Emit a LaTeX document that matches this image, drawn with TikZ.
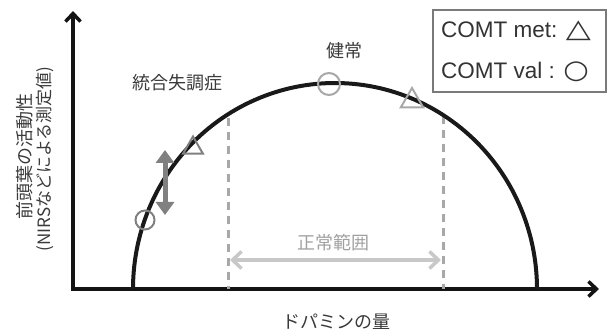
\documentclass[tikz,border=0pt]{standalone}
\usepackage{fontspec}
\setmainfont{Liberation Sans}
\newfontfamily\jpfont{Noto Sans CJK JP}
\newfontfamily\symfont{DejaVu Sans}
\usetikzlibrary{arrows.meta,shapes.geometric}
\definecolor{markdark}{HTML}{808080}
\definecolor{marklight}{HTML}{A8A8A8}
\definecolor{dashgray}{HTML}{A8A8A8}
\definecolor{rangegray}{HTML}{C8C8C8}
\definecolor{rangetext}{HTML}{A0A0A0}
\definecolor{legendline}{HTML}{7A7A7A}
\definecolor{legendtext}{HTML}{333333}
\definecolor{jptext}{HTML}{3A3A3A}
\tikzset{
  axisline/.style={line width=4pt, black!92, line join=miter,
    arrows={Straight Barb[length=8pt,width=15pt,line width=3.5pt]-Straight Barb[length=8pt,width=15pt,line width=3.5pt]}},
  curveline/.style={line width=4pt, black!90},
  dashline/.style={line width=3pt, dashgray, dash pattern=on 8pt off 6pt},
  rangearrow/.style={line width=4pt, rangegray,
    arrows={Straight Barb[length=9pt,width=17pt,line width=3.5pt]-Straight Barb[length=9pt,width=17pt,line width=3.5pt]}},
  shiftarrow/.style={line width=5pt, markdark,
    arrows={Triangle[length=13pt,width=18pt]-Triangle[length=13pt,width=18pt]}},
  circmark/.style={circle, draw, line width=2pt, inner sep=0pt},
  trimark/.style={regular polygon, regular polygon sides=3, draw, line width=2pt, inner sep=0pt},
  jplabel/.style={font=\jpfont\fontsize{18}{18}\selectfont, text=jptext, inner sep=0pt},
  legendtxt/.style={font=\fontsize{22.5}{22.5}\selectfont, text=legendtext, inner sep=0pt, anchor=west},
}
\begin{document}
\begin{tikzpicture}[x=1pt,y=-1pt]
\useasboundingbox (0,0) rectangle (608,331);
% axes
\coordinate (O) at (73,289);
\coordinate (Ytop) at (73,11);
\coordinate (Xend) at (599,289);
\draw[axisline] (Ytop) -- (O) -- (Xend);
% dashed bounds of normal range
\coordinate (dlt) at (228,118);
\coordinate (dlb) at (228,289);
\coordinate (drt) at (443,116);
\coordinate (drb) at (443,289);
\draw[dashline] (dlt) -- (dlb);
\draw[dashline] (drt) -- (drb);
% curve
\draw[curveline] plot[domain=0:180, samples=120] ({335+202*cos(\x)},{289-206*sin(\x)});
% normal range arrow
\coordinate (rl) at (230,260);
\coordinate (rr) at (441,260);
\draw[rangearrow] (rl) -- (rr);
\node[jplabel, text=rangetext] (range) at (333,243) {正常範囲};
% markers
\node[circmark, draw=markdark, minimum size=19pt] (c1) at (145,220) {};
\node[trimark, draw=markdark, minimum size=23pt] (t1) at (193,148) {};
\node[circmark, draw=marklight, minimum size=22pt] (c2) at (329,84) {};
\node[trimark, draw=marklight, minimum size=26pt] (t2) at (412,101) {};
% shift arrow
\coordinate (sa) at (165,150);
\coordinate (sb) at (165,215);
\draw[shiftarrow] (sa) -- (sb);
% labels
\node[jplabel] (scz) at (177,83) {統合失調症};
\node[jplabel] (healthy) at (344,51) {健常};
\node[jplabel] (xlab) at (336,322) {ドパミンの量};
\node[jplabel, rotate=90] (ylab1) at (25,157) {前頭葉の活動性};
\node[jplabel, rotate=90, font=\jpfont\fontsize{17}{17}\selectfont] (ylab2) at (45,159) {(NIRSなどによる測定値)};
% legend
\node[draw=legendline, line width=1.5pt, minimum width=173pt, minimum height=82pt, inner sep=0pt] (legend) at (519.5,51) {};
\node[legendtxt] (lg1) at (441,31) {COMT met: {\symfont\scalebox{1.45}[1.15]{△}}};
\node[legendtxt] (lg2) at (441,72) {COMT val : {\symfont\scalebox{1.3}[1.15]{○}}};
\end{tikzpicture}
\end{document}
